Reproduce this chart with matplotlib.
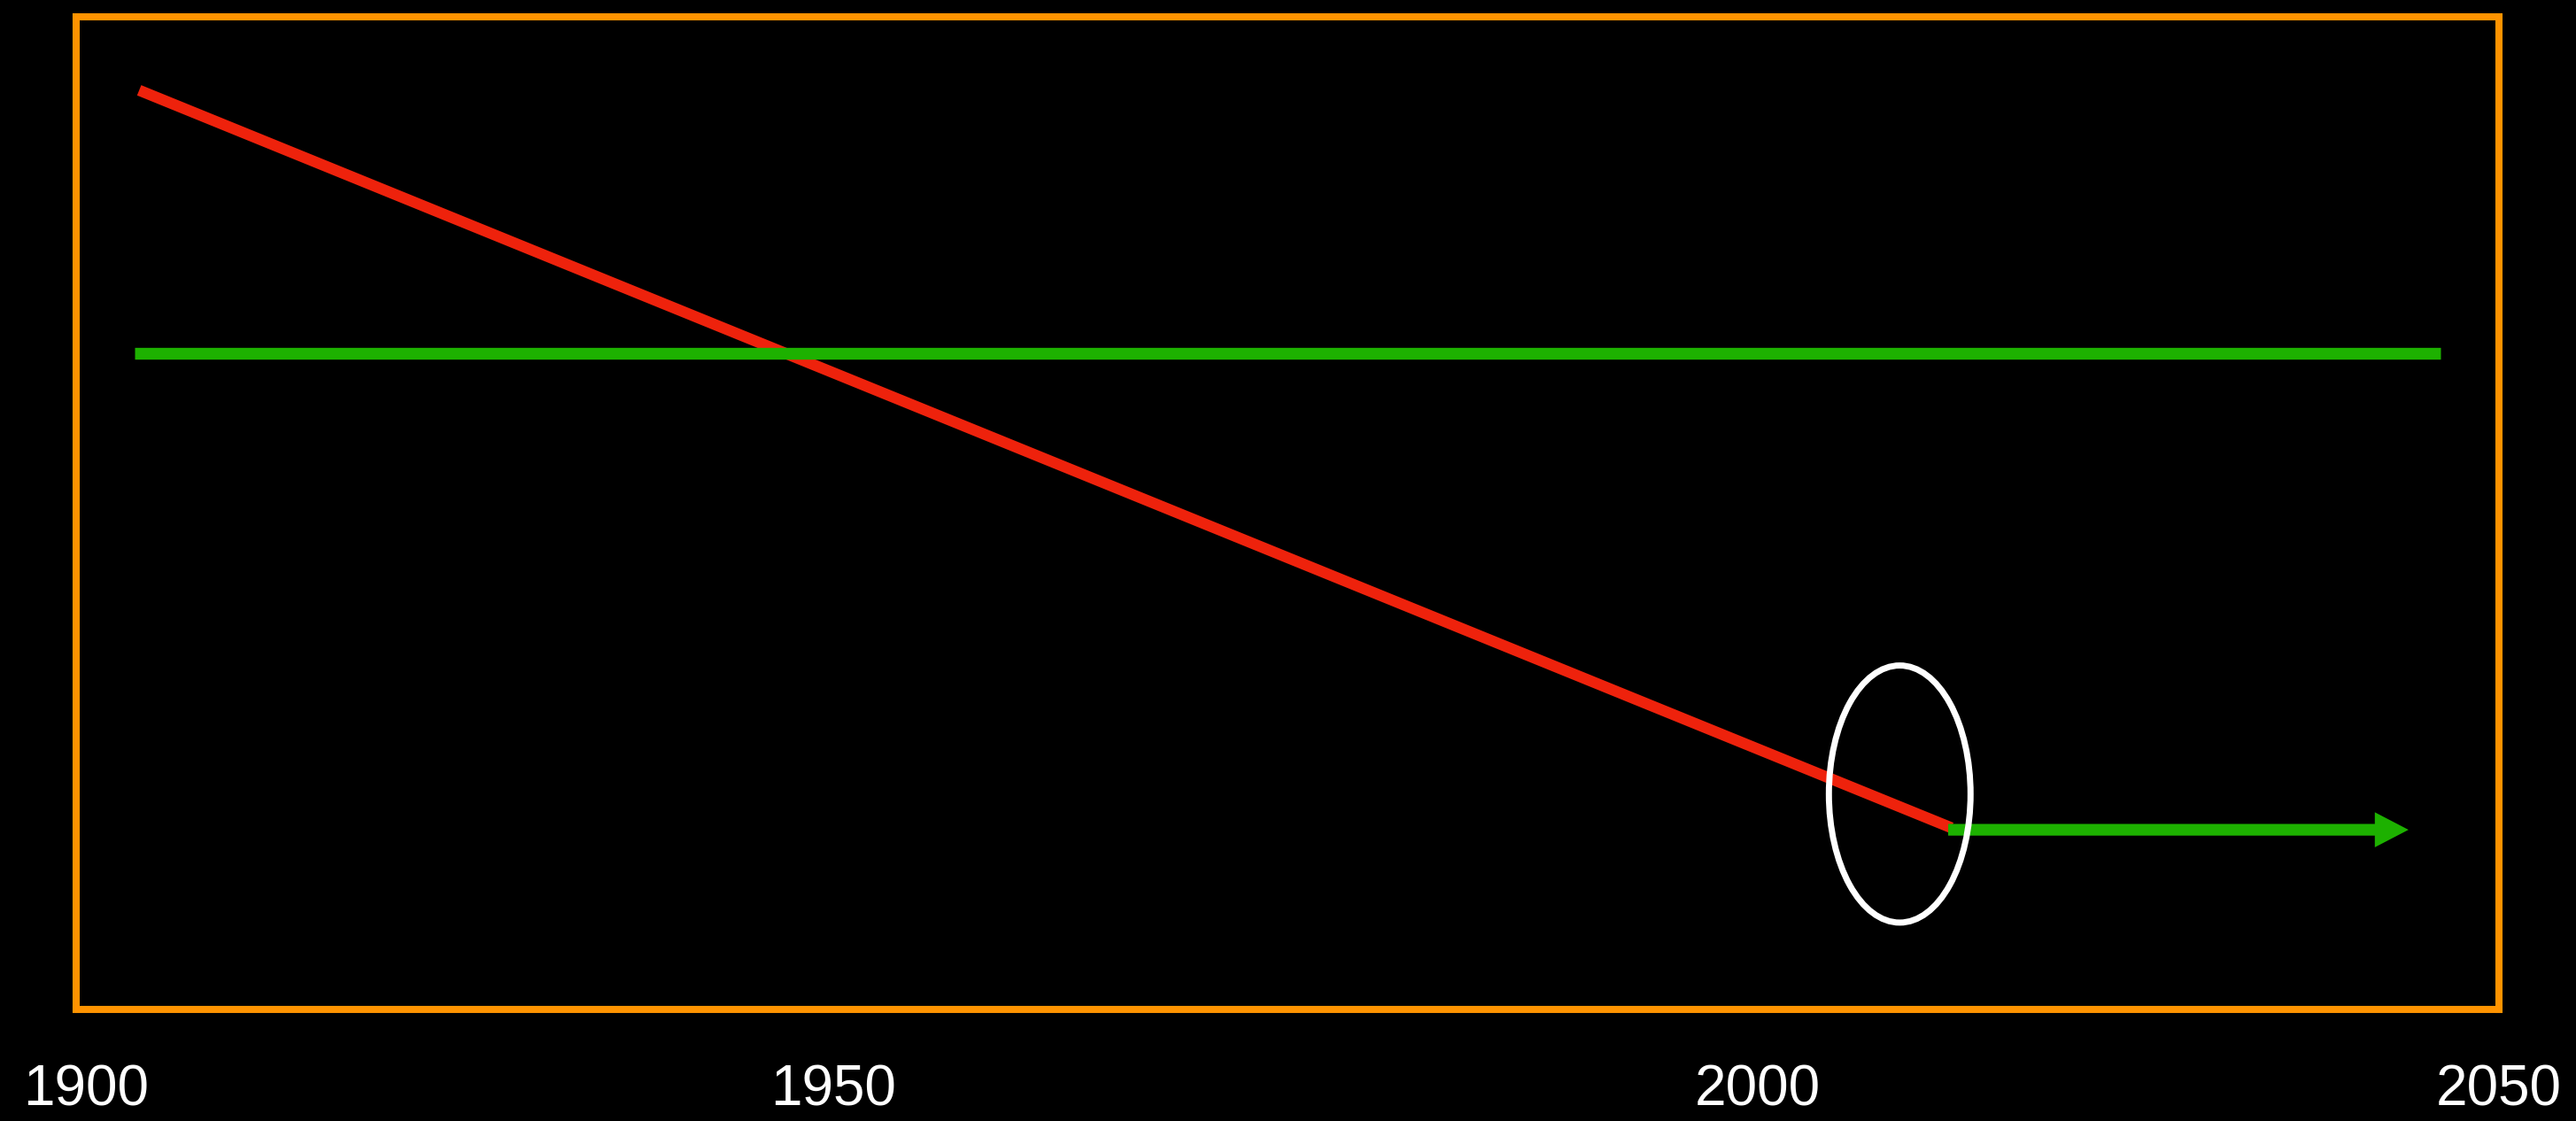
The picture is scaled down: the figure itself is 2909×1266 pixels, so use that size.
import matplotlib.pyplot as plt
from matplotlib.patches import Ellipse, FancyArrowPatch

# schematic: x in years, y in arbitrary units (0 = bottom of frame, 100 = top)
tick_years = ["1900", "1950", "2000", "2050"]
tick_pos = [1900.6, 1946.9, 2004.1, 2050.0]

red_x = [1903.9, 2016.1]
red_y = [92.6, 18.3]

green_x = [1903.6, 2046.4]
green_y = [66.1, 66.1]

arrow_start = (2015.9, 18.1)
arrow_end = (2044.4, 18.1)

ring_center = (2012.9, 21.7)
ring_w = 8.77
ring_h = 25.9

orange = "#FF9300"
red = "#EE220C"
green = "#1DB100"

fig = plt.figure(figsize=(29.09, 12.66), dpi=100, facecolor="black")
ax = fig.add_axes([86 / 2909, 126 / 1266, 2736 / 2909, 1121 / 1266])
ax.set_facecolor("black")

ax.plot(red_x, red_y, color=red, lw=9, solid_capstyle="butt", zorder=2)
ax.plot(green_x, green_y, color=green, lw=9.6, solid_capstyle="butt", zorder=3)

arrow = FancyArrowPatch(arrow_start, arrow_end,
                        arrowstyle="simple,head_length=2.74,head_width=2.85,tail_width=0.95",
                        mutation_scale=10, color=green, lw=0,
                        shrinkA=0, shrinkB=0, zorder=3)
ax.add_patch(arrow)

ax.add_patch(Ellipse(ring_center, ring_w, ring_h, fill=False,
                     edgecolor="white", lw=5, zorder=4))

ax.set_xlim(1900, 2050)
ax.set_ylim(0, 100)

for s in ax.spines.values():
    s.set_color(orange)
    s.set_linewidth(5.8)

ax.set_yticks([])
ax.set_xticks(tick_pos, tick_years)
ax.tick_params(axis="x", length=0, pad=44, labelcolor="white", labelsize=46)
for lab in ax.get_xticklabels():
    lab.set_family("Liberation Sans")

fig.savefig("out.png", dpi=100, facecolor="black")
